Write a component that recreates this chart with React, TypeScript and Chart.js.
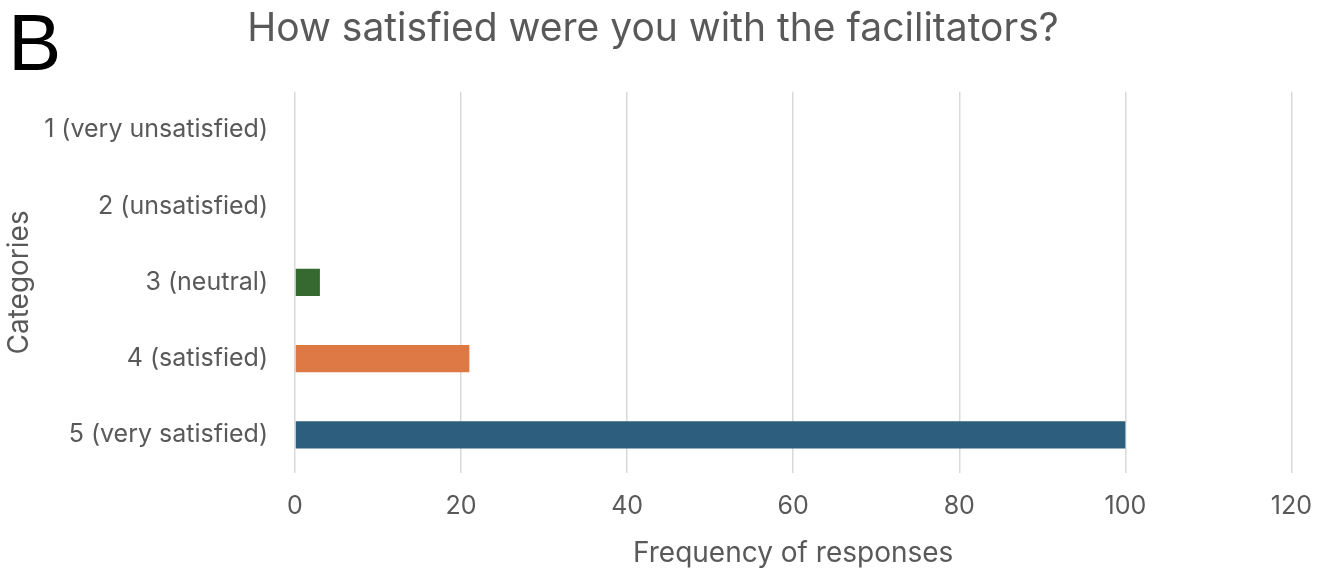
import React, { useEffect, useRef } from "react";
import { Chart, registerables } from "chart.js";

Chart.register(...registerables);

const categories = [
  "1 (very unsatisfied)",
  "2 (unsatisfied)",
  "3 (neutral)",
  "4 (satisfied)",
  "5 (very satisfied)",
];
const frequencies = [0, 0, 3, 21, 100];
const barColors = ["#4472c4", "#a5a5a5", "#35692f", "#de7845", "#2d5e7e"];
const xTicks = [0, 20, 40, 60, 80, 100, 120];

const FONT = "Inter, 'Noto Sans', sans-serif";
const TEXT = "#595959";

export default function App() {
  const ref = useRef<HTMLCanvasElement>(null);
  useEffect(() => {
    if (!ref.current) return;
    const chart = new Chart(ref.current, {
      type: "bar",
      data: {
        labels: categories,
        datasets: [
          {
            data: frequencies,
            backgroundColor: barColors,
            borderWidth: 0,
            barPercentage: 0.355,
            categoryPercentage: 1,
          },
        ],
      },
      options: {
        indexAxis: "y",
        animation: false,
        responsive: false,
        devicePixelRatio: 1,
        layout: { padding: { left: 10, right: 34, top: 0, bottom: 0 } },
        plugins: {
          legend: { display: false },
          tooltip: { enabled: false },
          title: {
            display: true,
            text: "How satisfied were you with the facilitators?",
            color: TEXT,
            font: { family: FONT, size: 39, weight: "normal" },
            padding: { top: 6, bottom: 39 },
          },
        },
        scales: {
          x: {
            min: 0,
            max: 120,
            afterBuildTicks: (s: any) => {
              s.ticks = xTicks.map((v) => ({ value: v }));
            },
            afterFit: (s: any) => {
              s.height = 572 - 473;
            },
            grid: { color: "#d9d9d9", lineWidth: 1.5, drawTicks: false },
            border: { display: false },
            ticks: {
              color: TEXT,
              font: { family: FONT, size: 25 },
              padding: 18,
            },
            title: {
              display: true,
              text: "Frequency of responses",
              color: TEXT,
              font: { family: FONT, size: 28 },
              padding: { top: 4, bottom: 2 },
            },
          },
          y: {
            afterFit: (s: any) => {
              s.width = 285;
            },
            grid: { display: false, drawTicks: false },
            border: { display: false },
            ticks: {
              color: TEXT,
              font: { family: FONT, size: 25 },
              padding: 27,
            },
            title: {
              display: true,
              text: "Categories",
              color: TEXT,
              font: { family: FONT, size: 28 },
              padding: { top: -7, bottom: 4 },
            },
          },
        },
      },
    });
    return () => chart.destroy();
  }, []);

  return (
    <div style={{ position: "fixed", left: 0, top: 0, width: 1330, height: 572, background: "#fff" }}>
      <canvas ref={ref} width={1330} height={572} style={{ display: "block" }} />
      <div
        style={{
          position: "absolute",
          left: 8,
          top: 2,
          fontFamily: "'Liberation Sans', Arial, sans-serif",
          fontSize: 80,
          lineHeight: "82px",
          color: "#000",
        }}
      >
        B
      </div>
    </div>
  );
}
